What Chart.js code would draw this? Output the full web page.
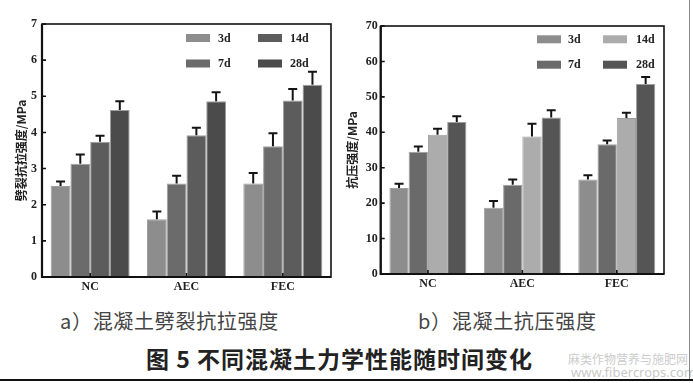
<!DOCTYPE html>
<html><head><meta charset="utf-8">
<script src="https://cdn.jsdelivr.net/npm/chart.js@4.4.1/dist/chart.umd.min.js"></script>
<style>
html,body{margin:0;padding:0;background:#fff;}
#wrap{position:relative;width:693px;height:383px;overflow:hidden;background:#fff;}
canvas{position:absolute;top:0;}
.cap{position:absolute;white-space:nowrap;font-family:"Noto Sans CJK SC";}
.line{position:absolute;}
</style></head><body>
<div id="wrap">
<canvas id="left" width="340" height="300" style="left:0;width:340px;height:300px"></canvas>
<canvas id="right" width="353" height="300" style="left:340px;width:353px;height:300px"></canvas>
<div class="cap" style="left:60px;top:311px;font-size:20px;line-height:20px;color:#444;letter-spacing:0.7px">a）混凝土劈裂抗拉强度</div>
<div class="cap" style="left:418px;top:311px;font-size:20px;line-height:20px;color:#444;letter-spacing:0.7px">b）混凝土抗压强度</div>
<div class="cap" style="left:146px;top:347px;font-size:23px;line-height:23px;color:#222;font-weight:bold;letter-spacing:1px">图 5 不同混凝土力学性能随时间变化</div>
<div class="cap" style="left:568px;top:352px;font-size:12px;line-height:13px;color:#cccccc">麻类作物营养与施肥网</div>
<div class="cap" style="left:571px;top:365px;font-size:13px;line-height:14px;color:#c8c8c8;font-family:'Noto Sans'">www.fibercrops.com</div>
<div class="line" style="left:689px;top:0;width:1px;height:380px;background:#888"></div>
<div class="line" style="left:0;top:379px;width:693px;height:2px;background:#111"></div>
</div>
<script>
const categories = ['NC', 'AEC', 'FEC'];
const seriesNames = ['3d', '7d', '14d', '28d'];

// (a) split tensile strength, MPa
const splitTensile3d  = [2.52, 1.60, 2.59];
const splitTensile7d  = [3.13, 2.59, 3.62];
const splitTensile14d = [3.74, 3.92, 4.88];
const splitTensile28d = [4.62, 4.86, 5.32];
const splitTensileErr3d  = [0.12, 0.21, 0.29];
const splitTensileErr7d  = [0.26, 0.21, 0.36];
const splitTensileErr14d = [0.17, 0.21, 0.32];
const splitTensileErr28d = [0.24, 0.25, 0.36];
const splitTensileTicks = [0, 1, 2, 3, 4, 5, 6, 7];

// (b) compressive strength, MPa
const compressive3d  = [24.3, 18.7, 26.7];
const compressive7d  = [34.5, 25.2, 36.6];
const compressive14d = [39.3, 38.8, 44.0];
const compressive28d = [42.9, 44.2, 53.6];
const compressiveErr3d  = [1.2, 1.9, 1.2];
const compressiveErr7d  = [1.5, 1.5, 1.1];
const compressiveErr14d = [1.7, 3.6, 1.5];
const compressiveErr28d = [1.6, 2.0, 2.0];
const compressiveTicks = [0, 10, 20, 30, 40, 50, 60, 70];

const serifBold = {family: '"Liberation Serif", "DejaVu Serif", serif', size: 12, weight: 'bold'};

const drawPlugin = {
  id: 'drawExtras',
  afterDatasetsDraw(chart) {
    const ctx = chart.ctx;
    const a = chart.chartArea;
    const xs = chart.scales.x, ys = chart.scales.y;
    ctx.save();
    // frame
    ctx.strokeStyle = '#111';
    ctx.lineWidth = 1.6;
    ctx.strokeRect(a.left, a.top, a.right - a.left, a.bottom - a.top);
    ctx.lineWidth = 2.2;
    ctx.beginPath();
    ctx.moveTo(a.left, a.top); ctx.lineTo(a.left, a.bottom); ctx.lineTo(a.right, a.bottom);
    ctx.stroke();
    // inner ticks
    ctx.lineWidth = 1.6;
    ctx.beginPath();
    ys.ticks.forEach(t => {
      const y = ys.getPixelForValue(t.value);
      ctx.moveTo(a.left, y); ctx.lineTo(a.left + 4, y);
    });
    categories.forEach((c, i) => {
      const x = xs.getPixelForValue(i);
      ctx.moveTo(x, a.bottom); ctx.lineTo(x, a.bottom - 4);
    });
    ctx.stroke();
    // error bars (upper half)
    ctx.strokeStyle = '#141414';
    ctx.lineWidth = 2;
    chart.data.datasets.forEach((ds, i) => {
      const meta = chart.getDatasetMeta(i);
      meta.data.forEach((el, j) => {
        const yc = ys.getPixelForValue(ds.data[j] + ds.errors[j]);
        ctx.beginPath();
        ctx.moveTo(el.x, el.y); ctx.lineTo(el.x, yc);
        ctx.moveTo(el.x - 4.5, yc); ctx.lineTo(el.x + 4.5, yc);
        ctx.stroke();
      });
    });
    // legend in 2x2 grid
    const lg = chart.options.plugins.gridLegend;
    ctx.font = 'bold 12px "Liberation Serif", serif';
    ctx.textBaseline = 'middle';
    ctx.textAlign = 'left';
    lg.items.forEach(it => {
      const ds = chart.data.datasets[it.ds];
      ctx.fillStyle = ds.backgroundColor;
      ctx.fillRect(it.x, it.y - lg.boxH / 2, lg.boxW, lg.boxH);
      ctx.fillStyle = '#222';
      ctx.fillText(ds.label, it.tx, it.y + 0.5);
    });
    ctx.restore();
  }
};

function makeChart(id, cfg) {
  const datasets = cfg.values.map((v, i) => ({
    label: seriesNames[i],
    data: v,
    errors: cfg.errors[i],
    backgroundColor: cfg.colors[i],
    borderColor: 'rgba(40,40,40,0.45)',
    borderWidth: 1,
    barPercentage: 1.0,
    categoryPercentage: cfg.catPct
  }));
  return new Chart(document.getElementById(id), {
    type: 'bar',
    data: {labels: categories, datasets},
    plugins: [drawPlugin],
    options: {
      responsive: false,
      animation: false,
      events: [],
      layout: {padding: cfg.padding},
      plugins: {
        legend: {display: false},
        tooltip: {enabled: false},
        gridLegend: cfg.legend
      },
      scales: {
        x: {
          grid: {display: false, drawTicks: false},
          border: {display: false},
          ticks: {font: serifBold, color: '#222', padding: 3},
          afterFit(s) { s.height = cfg.xHeight; }
        },
        y: {
          min: cfg.ticks[0],
          max: cfg.ticks[cfg.ticks.length - 1],
          grid: {display: false, drawTicks: false},
          border: {display: false},
          ticks: {stepSize: cfg.ticks[1] - cfg.ticks[0], font: serifBold, color: '#222', padding: cfg.tickPad},
          title: {
            display: true, text: cfg.title, color: '#222', padding: 0,
            font: {family: '"Noto Sans CJK SC"', size: 12, weight: 'bold'}
          },
          afterFit(s) { s.width = cfg.yWidth; }
        }
      }
    }
  });
}

makeChart('left', {
  values: [splitTensile3d, splitTensile7d, splitTensile14d, splitTensile28d],
  errors: [splitTensileErr3d, splitTensileErr7d, splitTensileErr14d, splitTensileErr28d],
  colors: ['#8d8d8d', '#6b6b6b', '#5c5c5c', '#4b4b4b'],
  ticks: splitTensileTicks,
  title: '劈裂抗拉强度/MPa',
  catPct: 0.82,
  padding: {left: 14, top: 24, right: 9, bottom: 0},
  yWidth: 28, xHeight: 23, tickPad: 5,
  legend: {boxW: 24, boxH: 8, items: [
    {ds: 0, x: 186, y: 38, tx: 218},
    {ds: 1, x: 186, y: 63.5, tx: 218},
    {ds: 2, x: 258, y: 38, tx: 290},
    {ds: 3, x: 258, y: 63.5, tx: 290}
  ]}
});

makeChart('right', {
  values: [compressive3d, compressive7d, compressive14d, compressive28d],
  errors: [compressiveErr3d, compressiveErr7d, compressiveErr14d, compressiveErr28d],
  colors: ['#8d8d8d', '#6a6a6a', '#acacac', '#555555'],
  ticks: compressiveTicks,
  title: '抗压强度/MPa',
  catPct: 0.815,
  padding: {left: 5, top: 26, right: 29, bottom: 0},
  yWidth: 35.7, xHeight: 26, tickPad: 3,
  legend: {boxW: 24, boxH: 8, items: [
    {ds: 0, x: 197, y: 39.3, tx: 228},
    {ds: 1, x: 197, y: 64.7, tx: 228},
    {ds: 2, x: 263, y: 39.3, tx: 296},
    {ds: 3, x: 263, y: 64.7, tx: 296}
  ]}
});
</script>
</body></html>
